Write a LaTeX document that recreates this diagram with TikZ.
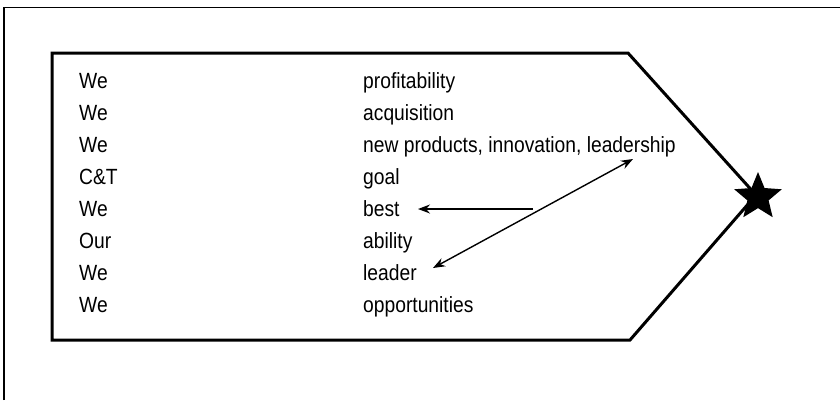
\documentclass[tikz,border=0pt]{standalone}
\usepackage{fontspec}
\setmainfont{Liberation Sans}[FakeStretch=0.875]
\usetikzlibrary{shapes.geometric,arrows.meta}
\begin{document}
\begin{tikzpicture}[x=1pt,y=-1pt,
  frame/.style={line width=1.6pt},
  panel/.style={line width=3pt, line join=miter},
  word/.style={anchor=base west, inner sep=0pt, font=\fontsize{22}{26}\selectfont},
  link/.style={line width=1.4pt, -{Stealth[length=12pt,width=9pt]}},
  dlink/.style={line width=1.4pt, {Stealth[length=12pt,width=9pt]}-{Stealth[length=12pt,width=9pt]}}]
\useasboundingbox (0,0) rectangle (840,400);
% outer frame (top and left edges)
\draw[frame] (4,400) -- (4,7.5) -- (840,7.5);
% arrow-shaped panel
\draw[panel] (52,53) -- (628,53) -- (756,195) -- (630,340) -- (52,340) -- cycle;
% star at the tip
\node[star, star points=5, star point ratio=2.25, fill=black, draw=none,
      minimum size=50pt, inner sep=0pt] (goalstar) at (758,197) {};
% left column
\foreach \w [count=\i] in {We,We,We,C\&T,We,Our,We,We}
  \node[word] (l\i) at (79,{56+32*\i}) {\w};
% right column
\node[word] (r1) at (363,88)  {profitability};
\node[word] (r2) at (363,120) {acquisition};
\node[word] (r3) at (363,152) {new products, innovation, leadership};
\node[word] (r4) at (363,184) {goal};
\node[word] (r5) at (363,216) {best};
\node[word] (r6) at (363,248) {ability};
\node[word] (r7) at (363,280) {leader};
\node[word] (r8) at (363,312) {opportunities};
% connectors
\coordinate (bstart) at (533,209);
\coordinate (bend) at (418,209);
\coordinate (lend) at (433,268);
\coordinate (nend) at (633,159);
\draw[link] (bstart) -- (bend);
\draw[dlink] (lend) -- (nend);
\end{tikzpicture}
\end{document}
